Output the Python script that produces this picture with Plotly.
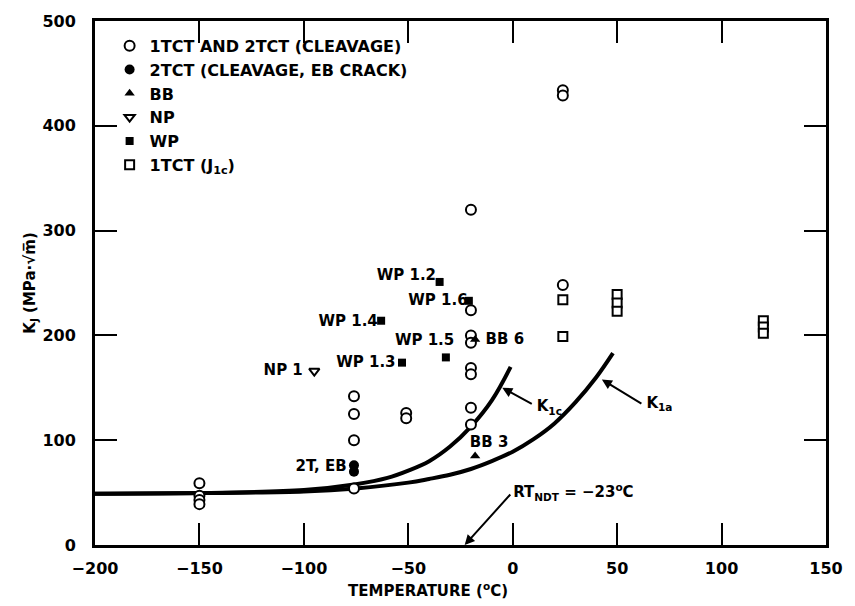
import plotly.graph_objects as go

# ---------------- data ----------------
# open circles: 1TCT AND 2TCT (CLEAVAGE)
circ_T = [-150, -150, -150, -150, -76, -76, -76, -76, -51, -51,
          -20, -20, -20, -20, -20, -20, -20, -20, 24, 24, 24]
circ_K = [59, 47, 43, 39, 142, 125, 100, 54, 126, 121,
          320, 224, 200, 193, 169, 163, 131, 115, 434, 429, 248]
# filled circles: 2TCT (CLEAVAGE, EB CRACK)
fcirc_T = [-76, -76]
fcirc_K = [76, 70]
# BB
bb_T = [-18, -18]
bb_K = [85, 196]
# NP
np_T = [-95]
np_K = [166]
# WP (1.2, 1.6, 1.4, 1.5, 1.3)
wp_T = [-35, -21, -63, -32, -53]
wp_K = [251, 233, 214, 179, 174]
# 1TCT (J1c)
j_T = [24, 24, 50, 50, 50, 120, 120, 120]
j_K = [234, 199, 239, 231, 223, 214, 208, 202]
# curves
k1c_T = [-200, -150, -100, -75, -60, -50, -40, -30, -20, -10, -1]
k1c_K = [49, 49.5, 52.5, 58, 64, 71, 80, 94, 113, 138, 170]
k1a_T = [-200, -150, -100, -75, -50, -40, -30, -20, -10, 0, 10, 20, 30, 40, 48]
k1a_K = [49, 49.5, 51, 54, 59.5, 63, 67, 72.5, 80, 89, 101, 116, 136, 160, 183]

# tick labels
x_ticks = [-200, -150, -100, -50, 0, 50, 100, 150]
x_ticktext = ["\u2212200", "\u2212150", "\u2212100", "\u221250", "0", "50", "100", "150"]
y_ticks = [0, 100, 200, 300, 400, 500]
y_ticktext = ["0", "100", "200", "300", "400", "500"]

# point labels
lab_text = ["2T, EB", "BB 3", "BB 6", "WP 1.2", "WP 1.6", "WP 1.4", "WP 1.5", "WP 1.3", "NP 1"]
lab_T = [-79.5, -11.3, -13, -36.7, -21.6, -64.6, -42.2, -56.1, -100.5]
lab_K = [74, 97, 195.5, 256, 233, 213, 194.5, 173, 166]
lab_pos = ["middle left", "middle center", "middle right", "middle left", "middle left",
           "middle left", "middle center", "middle left", "middle left"]

# curve labels (text) and their arrow heads
curve_text = ["K<sub>1c</sub>", "K<sub>1a</sub>", "RT<sub>NDT</sub> = \u221223<sup>o</sup>C"]
curve_T = [11.5, 64, 0.2]
curve_K = [131, 134, 49]
head_T = [-5, 42.7, -23]
head_K = [150, 157.9, 0]
head_ax = [31, 41, 47]
head_ay = [17, 25, -52]

FONT = "DejaVu Sans"
plain16 = dict(family=FONT, size=16, color="black")
bold15 = dict(family=FONT, size=15, color="black", weight="bold")
bold16 = dict(family=FONT, size=16, color="black", weight="bold")

fig = go.Figure()

fig.add_trace(go.Scatter(x=k1c_T, y=k1c_K, mode="lines", line=dict(color="black", width=4, shape="spline"), showlegend=False))
fig.add_trace(go.Scatter(x=k1a_T, y=k1a_K, mode="lines", line=dict(color="black", width=4, shape="spline"), showlegend=False))

fig.add_trace(go.Scatter(x=circ_T, y=circ_K, mode="markers", name="1TCT AND 2TCT (CLEAVAGE)",
                         marker=dict(symbol="circle", size=10, color="white", line=dict(color="black", width=2))))
fig.add_trace(go.Scatter(x=fcirc_T, y=fcirc_K, mode="markers", name="2TCT (CLEAVAGE, EB CRACK)",
                         marker=dict(symbol="circle", size=10, color="black")))
fig.add_trace(go.Scatter(x=bb_T, y=bb_K, mode="markers", name="BB",
                         marker=dict(symbol="triangle-up", size=9, color="black")))
fig.add_trace(go.Scatter(x=np_T, y=np_K, mode="markers", name="NP",
                         marker=dict(symbol="triangle-down", size=9, color="white", line=dict(color="black", width=2))))
fig.add_trace(go.Scatter(x=wp_T, y=wp_K, mode="markers", name="WP",
                         marker=dict(symbol="square", size=8, color="black")))
fig.add_trace(go.Scatter(x=j_T, y=j_K, mode="markers", name="1TCT (J<sub>1c</sub>)",
                         marker=dict(symbol="square", size=9, color="white", line=dict(color="black", width=2))))

# point labels as a text trace
fig.add_trace(go.Scatter(x=lab_T, y=lab_K, mode="text", text=lab_text, textposition=lab_pos,
                         textfont=bold15, showlegend=False, hoverinfo="skip"))
# curve labels as a text trace
fig.add_trace(go.Scatter(x=curve_T, y=curve_K, mode="text", text=curve_text, textposition="middle right",
                         textfont=bold15, showlegend=False, hoverinfo="skip"))

# arrows
for hx, hy, ax, ay in zip(head_T, head_K, head_ax, head_ay):
    fig.add_annotation(x=hx, y=hy, text="", showarrow=True, ax=ax, ay=ay, arrowhead=2, arrowsize=1,
                       arrowwidth=2, arrowcolor="black", standoff=0, startstandoff=0)

# x-axis title (offset left of centre as in the original)
fig.add_annotation(xref="paper", yref="paper", x=0.455, y=-0.085, text="TEMPERATURE (<sup>o</sup>C)",
                   showarrow=False, font=bold15, xanchor="center", yanchor="middle")

axis_common = dict(showline=True, linewidth=3, linecolor="black", mirror="ticks", ticks="inside",
                   ticklen=22, tickwidth=2, tickcolor="black", showgrid=False, zeroline=False,
                   tickfont=plain16, tickmode="array")
fig.update_xaxes(range=[-200, 150], tickvals=x_ticks, ticktext=["<b>" + t + "</b>" for t in x_ticktext],
                 ticklabelstandoff=7, **axis_common)
fig.update_yaxes(range=[0, 500], tickvals=y_ticks, ticktext=["<b>" + t + "</b>" for t in y_ticktext],
                 ticklabelstandoff=13,
                 title=dict(text="K<sub>J</sub> (MPa\u00b7\u221am\u0305)", font=bold15, standoff=4),
                 **axis_common)

fig.update_layout(
    width=855, height=606,
    margin=dict(l=95, r=20, t=13, b=61),
    paper_bgcolor="white", plot_bgcolor="white",
    font=bold15,
    legend=dict(x=0.02, y=0.985, xanchor="left", yanchor="top", bgcolor="rgba(0,0,0,0)",
                font=bold16, itemwidth=30, tracegroupgap=0),
)

fig.write_html("out.html")
